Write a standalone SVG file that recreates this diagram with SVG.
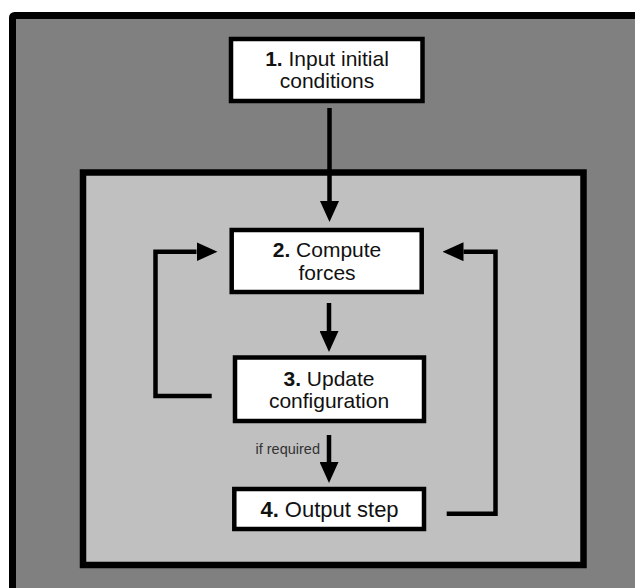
<svg xmlns="http://www.w3.org/2000/svg" width="635" height="588" viewBox="0 0 635 588">
<style>
.node rect{fill:#fff;stroke:#000;stroke-width:4.5}
.label{font-family:"Liberation Sans",Arial,sans-serif;font-size:21px;fill:#111;text-anchor:middle}
.label tspan.n{font-weight:bold}
.conn{fill:none;stroke:#000;stroke-width:4.5;stroke-linejoin:miter}
.small{font-family:"Liberation Sans",Arial,sans-serif;font-size:14.5px;fill:#333;text-anchor:end}
</style>
<defs>
<marker id="ah" markerUnits="userSpaceOnUse" viewBox="0 0 21 19" markerWidth="21" markerHeight="19" refX="0" refY="9.5" orient="auto">
<path d="M0,0 L21,9.5 L0,19 z" fill="#000"/>
</marker>
</defs>
<rect width="635" height="588" fill="#fff"/>
<g id="outer">
<rect x="12.5" y="15.5" width="700" height="650" rx="2" fill="#808080" stroke="#000" stroke-width="7"/>
</g>
<g id="inner">
<rect x="83" y="172.5" width="500.5" height="392.5" fill="#c0c0c0" stroke="#000" stroke-width="6.5"/>
</g>
<g id="connectors">
<path class="conn" d="M329.5,108 V201" marker-end="url(#ah)"/>
<path class="conn" d="M329,303 V331" marker-end="url(#ah)"/>
<path class="conn" d="M329,435 V462" marker-end="url(#ah)"/>
<path class="conn" d="M211.7,396 H155.5 V251.7 H196.5" marker-end="url(#ah)"/>
<path class="conn" d="M446.7,513.7 H495.5 V251.7 H463.5" marker-end="url(#ah)"/>
<text class="small" x="320" y="454">if required</text>
</g>
<g id="node1" class="node">
<rect x="231" y="39" width="191.5" height="62"/>
<text class="label" x="327" y="66"><tspan class="n">1.</tspan> Input initial</text>
<text class="label" x="327" y="88">conditions</text>
</g>
<g id="node2" class="node">
<rect x="231.7" y="230" width="190" height="62"/>
<text class="label" x="327" y="257.3"><tspan class="n">2.</tspan> Compute</text>
<text class="label" x="327" y="280">forces</text>
</g>
<g id="node3" class="node">
<rect x="235" y="357.5" width="189" height="63.5"/>
<text class="label" x="329" y="385.7"><tspan class="n">3.</tspan> Update</text>
<text class="label" x="329" y="408.3">configuration</text>
</g>
<g id="node4" class="node">
<rect x="234.3" y="489" width="189.7" height="40"/>
<text class="label" x="329.5" y="516.7" style="font-size:22px"><tspan class="n">4.</tspan> Output step</text>
</g>
</svg>
